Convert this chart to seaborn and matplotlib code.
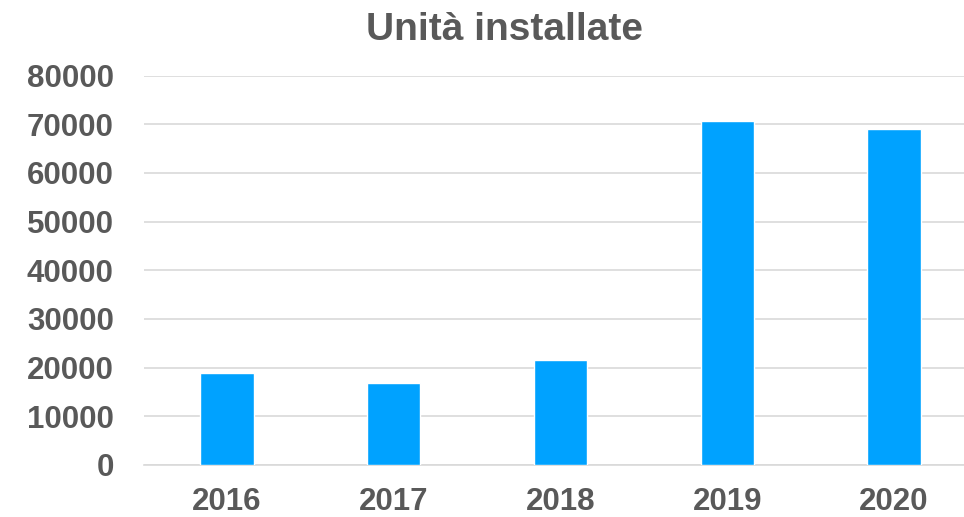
import matplotlib
matplotlib.use("Agg")
import matplotlib.pyplot as plt
import seaborn as sns
import pandas as pd

years = ["2016", "2017", "2018", "2019", "2020"]
units = [19000, 16800, 21500, 70600, 69000]
title = "Unità installate"
yticks = [0, 10000, 20000, 30000, 40000, 50000, 60000, 70000, 80000]

sns.set_theme(style="white")
plt.rcParams['font.family'] = ['Liberation Sans', 'DejaVu Sans']

df = pd.DataFrame({"anno": years, "unita": units})

fig = plt.figure(figsize=(9.64, 5.17), dpi=100)
ax = fig.add_axes([0.149, 0.1006, 0.851, 0.7532])
sns.barplot(data=df, x="anno", y="unita", color="#00A2FF", saturation=1,
            width=0.32, ax=ax, zorder=3)

txt = "#595959"
ax.set_ylim(0, 80000)
ax.set_xlim(-0.5, 4.42)
ax.set_yticks(yticks)
ax.set_yticklabels([str(v) for v in yticks])
ax.yaxis.grid(True, color="#D9D9D9", linewidth=1.2, zorder=0)
ax.set_axisbelow(True)
for s in ["top", "right", "left"]:
    ax.spines[s].set_visible(False)
ax.spines["bottom"].set_color("#D9D9D9")
ax.spines["bottom"].set_linewidth(1.2)
ax.tick_params(axis="both", length=0, labelsize=22.5, labelcolor=txt)
ax.tick_params(axis="y", pad=21.5)
ax.tick_params(axis="x", pad=16)
for lab in ax.get_xticklabels() + ax.get_yticklabels():
    lab.set_fontweight("bold")
ax.set_xlabel("")
ax.set_ylabel("")
fig.text(0.523, 0.942, title, ha="center", va="center", fontsize=28,
         fontweight="bold", color=txt)

fig.savefig("out.png", dpi=100)
